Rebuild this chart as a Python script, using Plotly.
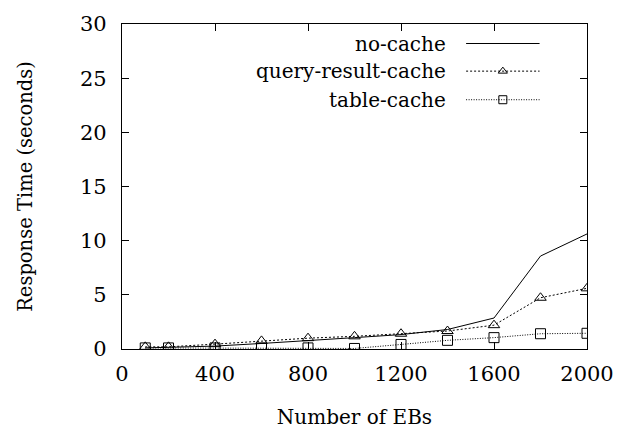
import plotly.graph_objects as go

ebs = [100, 200, 400, 600, 800, 1000, 1200, 1400, 1600, 1800, 2000]
no_cache = [0.1, 0.15, 0.27, 0.51, 0.81, 1.05, 1.33, 1.8, 2.86, 8.58, 10.62]
query_result_cache = [0.2, 0.2, 0.45, 0.75, 1.0, 1.17, 1.41, 1.66, 2.2, 4.73, 5.6]
table_cache = [0.1, 0.1, 0.1, 0.1, 0.1, 0.05, 0.42, 0.8, 1.05, 1.41, 1.45]
series_names = ["no-cache", "query-result-cache", "table-cache"]
x_ticks = [0, 400, 800, 1200, 1600, 2000]
y_ticks = [0, 5, 10, 15, 20, 25, 30]

FONT = "DejaVu Serif"
styles = [
    dict(dash="solid", symbol=None),
    dict(dash="2px,2px", symbol="triangle-up-open"),
    dict(dash="1px,1.5px", symbol="square-open"),
]

fig = go.Figure()
for name, ys, st in zip(series_names, [no_cache, query_result_cache, table_cache], styles):
    mode = "lines" if st["symbol"] is None else "lines+markers"
    fig.add_trace(go.Scatter(
        x=ebs, y=ys, mode=mode, name=name, showlegend=False,
        line=dict(color="black", width=1, dash=st["dash"]),
        marker=dict(symbol=st["symbol"] or "circle", size=10, color="black",
                    line=dict(color="black", width=1)),
    ))

# legend samples on an overlay axis (text left, sample right, like gnuplot)
leg_y = [0.940, 0.855, 0.767]
for name, ly, st in zip(series_names, leg_y, styles):
    fig.add_trace(go.Scatter(
        x=[0.740, 0.898], y=[ly, ly], mode="lines", xaxis="x2", yaxis="y2",
        showlegend=False, hoverinfo="skip",
        line=dict(color="black", width=1, dash=st["dash"]),
    ))
    if st["symbol"]:
        fig.add_trace(go.Scatter(
            x=[0.819], y=[ly], mode="markers", xaxis="x2", yaxis="y2",
            showlegend=False, hoverinfo="skip",
            marker=dict(symbol=st["symbol"], size=8, color="black",
                        line=dict(color="black", width=1)),
        ))
    fig.add_annotation(x=0.700, y=ly, xref="paper", yref="paper", text=name,
                       showarrow=False, xanchor="right", yanchor="middle",
                       font=dict(family=FONT, size=20, color="black"))

axis_common = dict(showline=True, linecolor="black", linewidth=1.2, mirror="ticks",
                   ticks="inside", ticklen=7, tickcolor="black", tickwidth=1,
                   showgrid=False, zeroline=False,
                   tickfont=dict(family=FONT, size=21, color="black"))

fig.update_layout(
    width=626, height=438,
    margin=dict(l=122, r=34, t=17, b=89),
    paper_bgcolor="white", plot_bgcolor="white",
    font=dict(family=FONT, color="black"),
    xaxis=dict(range=[0, 2000], tickvals=x_ticks, ticklabelstandoff=6,
               title=dict(text="Number of EBs", font=dict(family=FONT, size=20, color="black"), standoff=24),
               **axis_common),
    yaxis=dict(range=[0, 30], tickvals=y_ticks, ticklabelstandoff=10,
               title=dict(text="Response Time (seconds)", font=dict(family=FONT, size=19.5, color="black"), standoff=42),
               **axis_common),
    xaxis2=dict(range=[0, 1], overlaying="x", visible=False, fixedrange=True),
    yaxis2=dict(range=[0, 1], overlaying="y", visible=False, fixedrange=True),
)

fig.write_html("out.html")
